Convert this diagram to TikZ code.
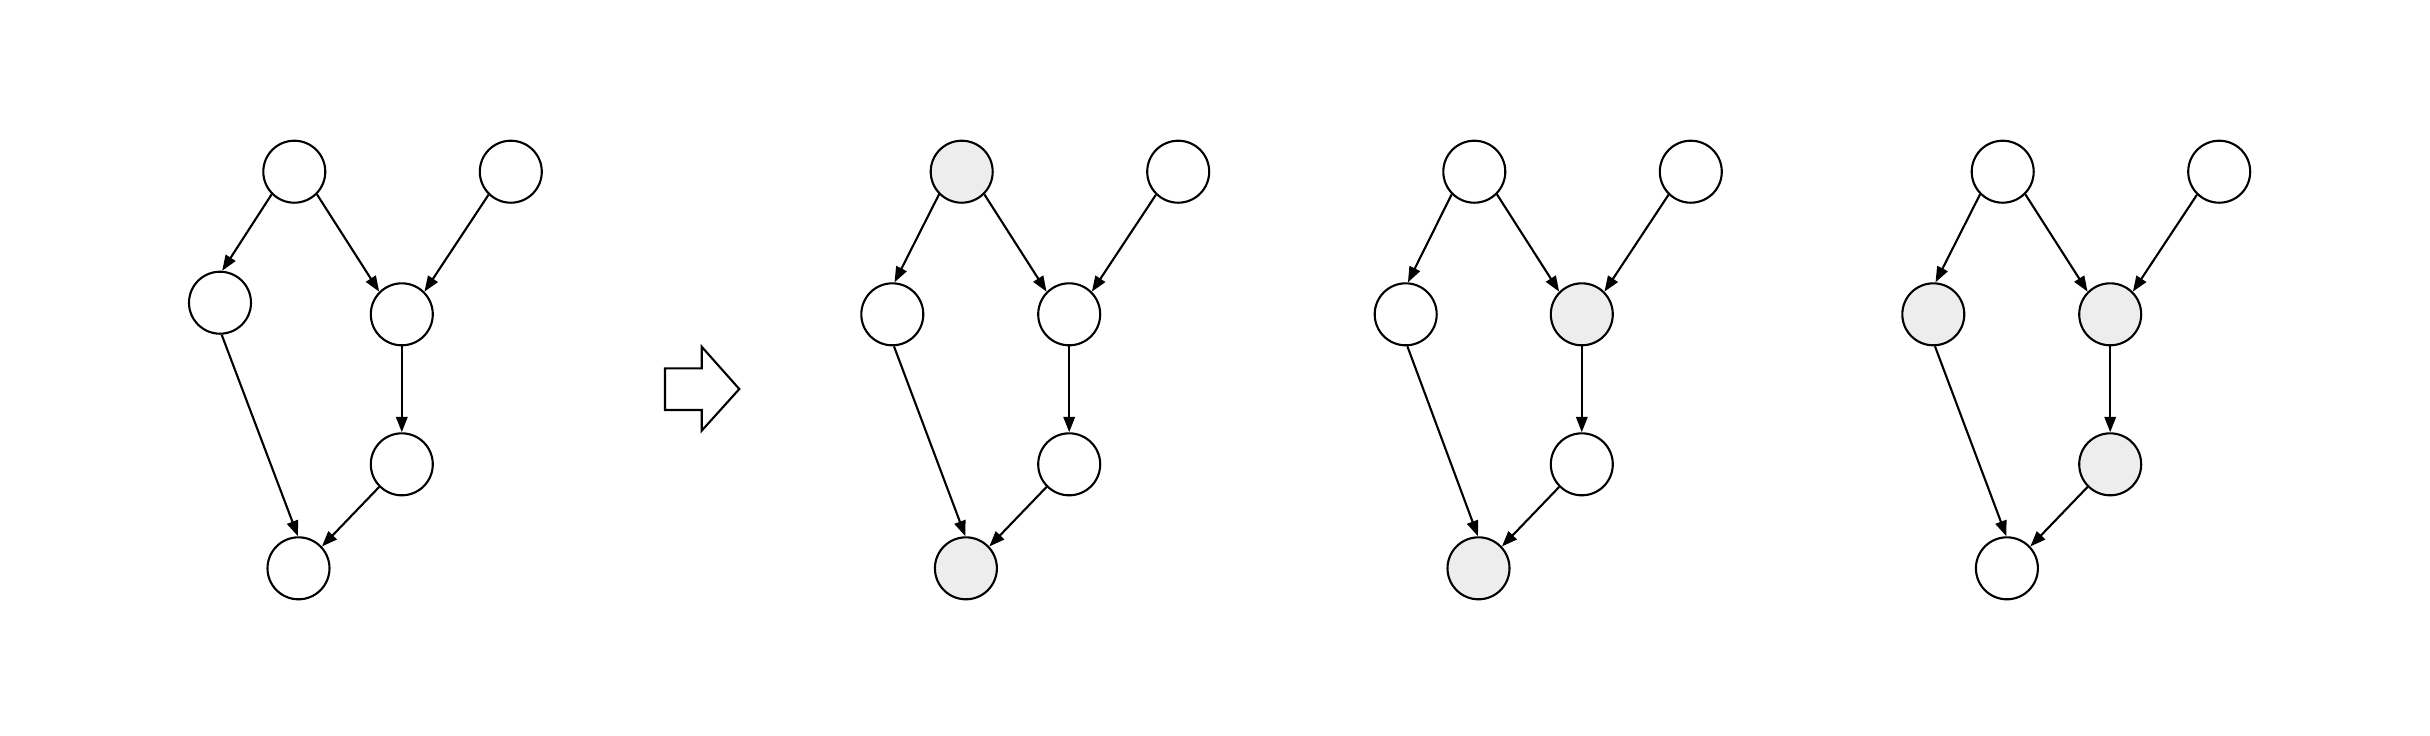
\documentclass[tikz,border=0pt]{standalone}
\usetikzlibrary{arrows.meta}
\usepackage{amsmath}

\tikzset{
  vert/.style={circle,draw,line width=0.6pt,minimum size=0.62cm,inner sep=0pt,fill=white},
  vertg/.style={vert,fill=black!7},
  edge/.style={line width=0.6pt,-{Triangle[length=1.55mm,width=1.15mm]}}
}

\begin{document}
\begin{tikzpicture}
    \useasboundingbox (0,0) rectangle (24.3,-7.35);
    \foreach \g/\ax/\cx/\cy/\sa/\sc/\sd/\se/\sf in {
        1/2.943/-0.743/-1.31/vert/vert/vert/vert/vert,
        2/9.617/-0.694/-1.426/vertg/vert/vert/vert/vertg,
        3/14.743/-0.686/-1.426/vert/vert/vertg/vert/vertg,
        4/20.027/-0.694/-1.426/vert/vertg/vertg/vertg/vert}
    {
      \begin{scope}[shift={(\ax,-1.717)}]
        \node[\sa] (a\g) at (0,0) {};
        \node[vert] (b\g) at (2.165,0) {};
        \node[\sc] (c\g) at (\cx,\cy) {};
        \node[\sd] (d\g) at (1.075,-1.426) {};
        \node[\se] (e\g) at (1.075,-2.926) {};
        \node[\sf] (f\g) at (0.042,-3.966) {};
      \end{scope}
      \draw[edge] (a\g.225) -- (c\g.86);
      \draw[edge] (a\g.-45) -- (d\g.135);
      \draw[edge] (b\g.226) -- (d\g.45);
      \draw[edge] (d\g) -- (e\g);
      \draw[edge] (c\g.-87) -- (f\g.91);
      \draw[edge] (e\g.225) -- (f\g.43);
    }
    % block arrow between the graphs
    \draw[line width=0.6pt] (6.65,-3.683) -- (7.017,-3.683) -- (7.017,-3.467)
      -- (7.393,-3.89) -- (7.017,-4.307) -- (7.017,-4.10) -- (6.65,-4.10) -- cycle;
\end{tikzpicture}
\end{document}
